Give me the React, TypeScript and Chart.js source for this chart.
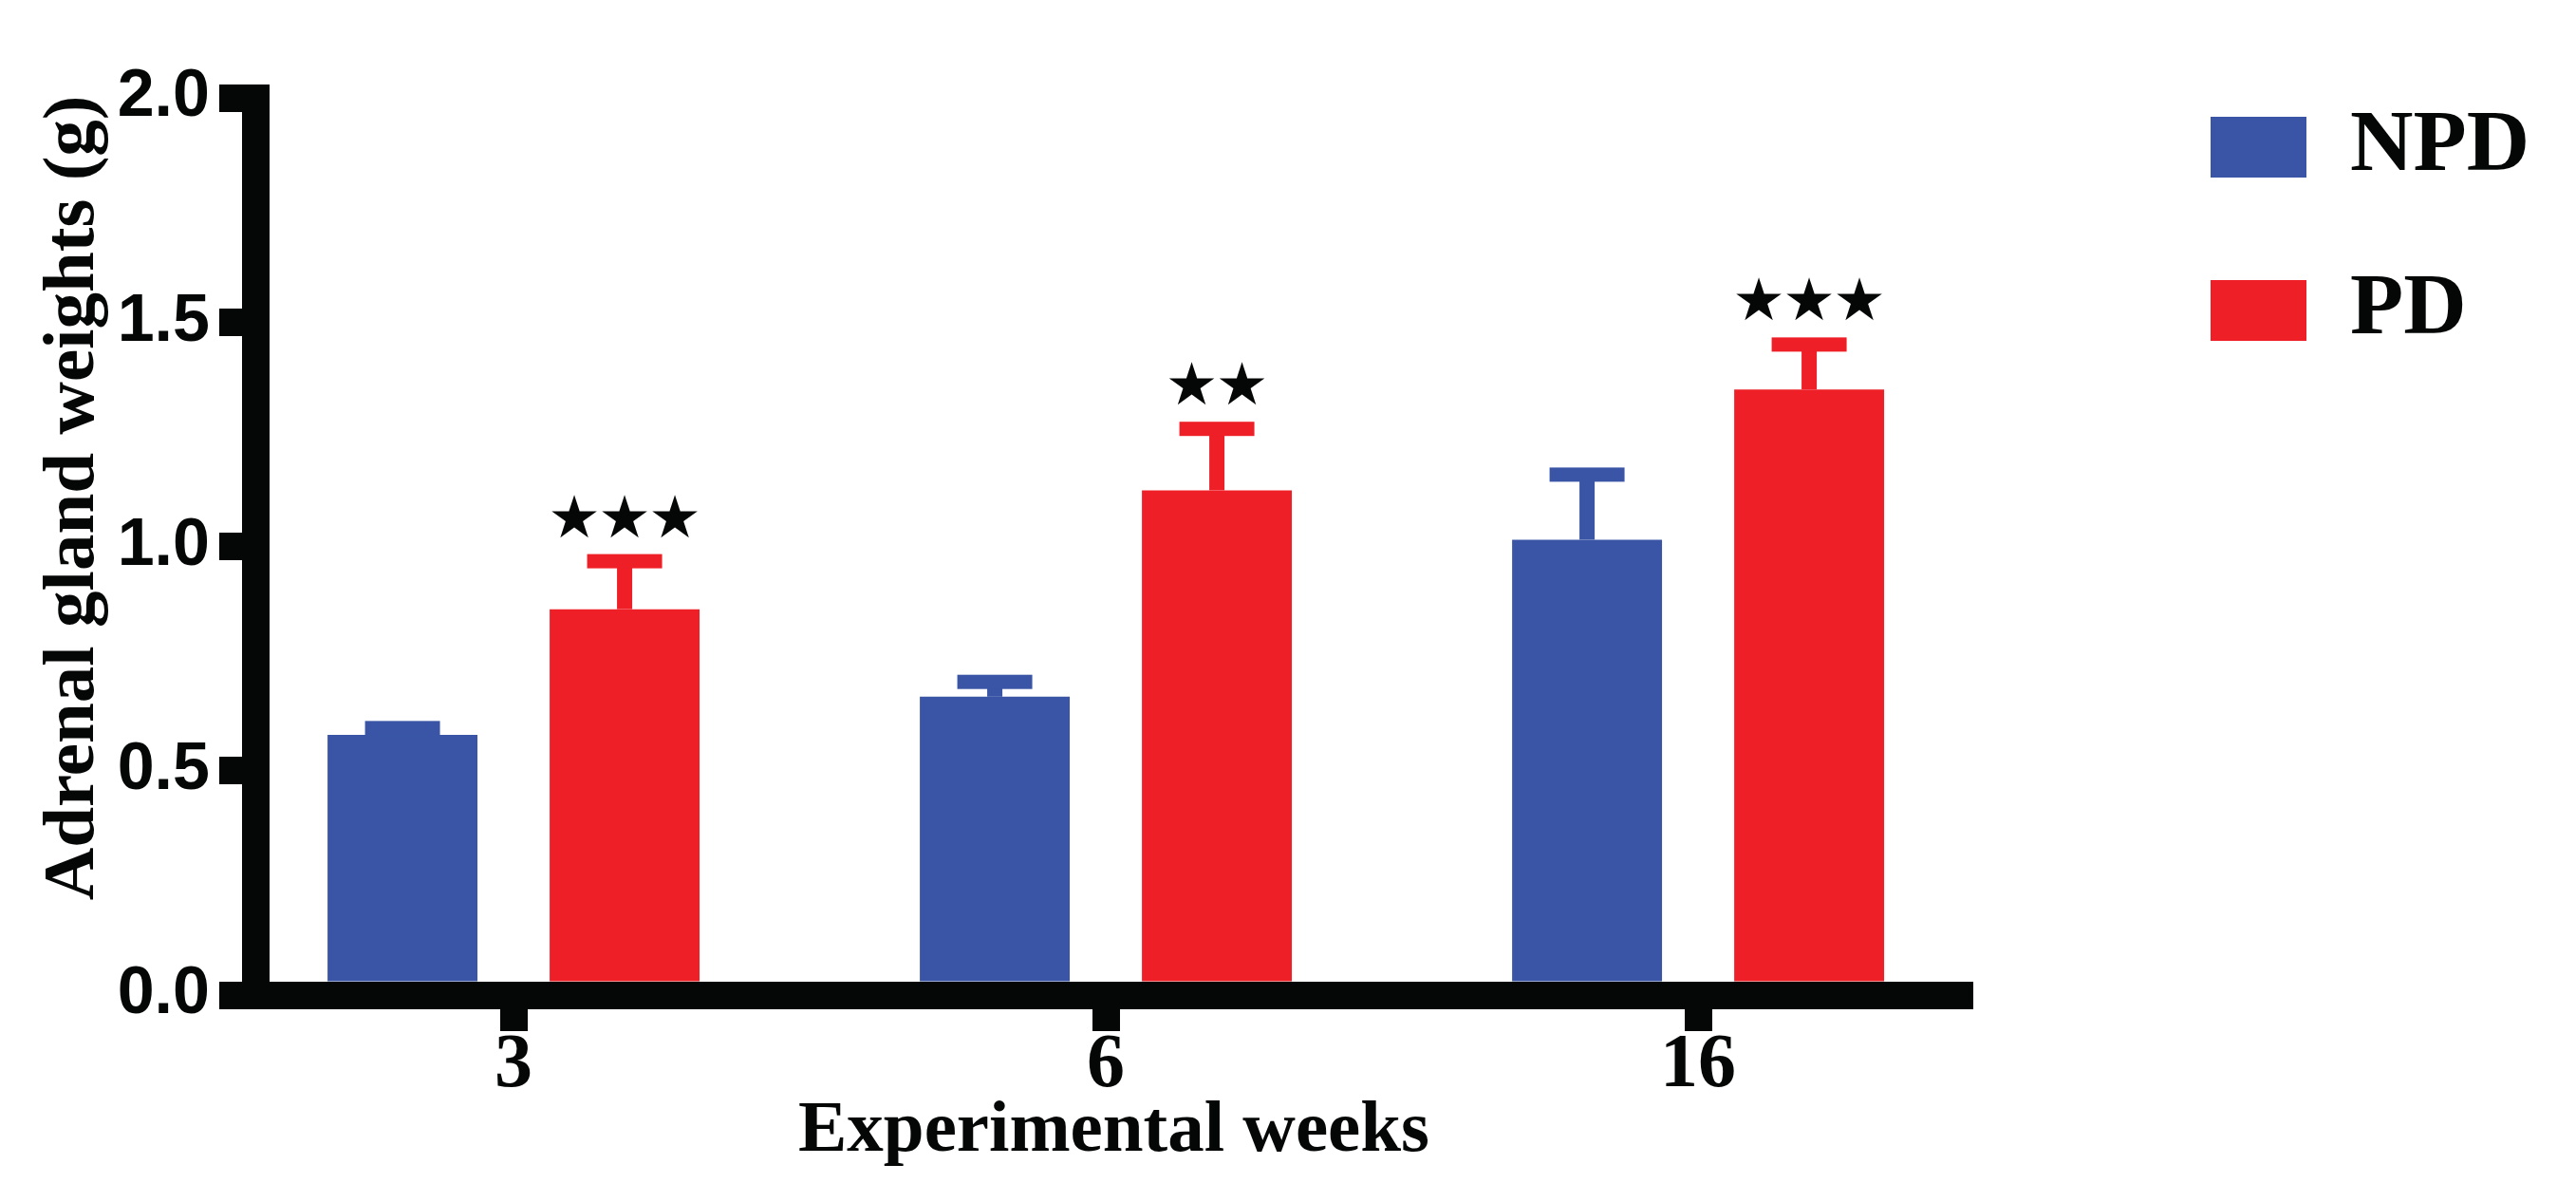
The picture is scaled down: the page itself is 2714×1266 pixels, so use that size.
import React, { useEffect, useRef } from 'react';
import { Chart, registerables } from 'chart.js';

Chart.register(...registerables);

// values (g)
const weeks = ['3', '6', '16'];
const npdMean = [0.58, 0.665, 1.015];
const npdSem = [0.015, 0.033, 0.145];
const pdMean = [0.86, 1.125, 1.35];
const pdSem = [0.107, 0.137, 0.1];
const npdStars = ['', '', ''];
const pdStars = ['★★★', '★★', '★★★'];
const yTicks = [0, 0.5, 1.0, 1.5, 2.0];

const BLUE = '#3a55a5';
const RED = '#ee1f27';
const INK = '#050706';

const means = [npdMean, pdMean];
const sems = [npdSem, pdSem];
const stars = [npdStars, pdStars];

// upward SEM bars, significance stars, y title, legend offset
const extras = {
    id: 'extras',
    afterLayout(chart: any) {
        // legend sits well clear of the plot in the original
        const lg = chart.legend;
        if (lg) {
            const dx = chart.chartArea.right + 171 - lg.left;
            lg.left += dx;
            lg.right += dx;
        }
    },
    afterDatasetsDraw(chart: any) {
        const ctx = chart.ctx;
        const yScale = chart.scales.y;
        ctx.save();
        chart.data.datasets.forEach((ds: any, di: number) => {
            const meta = chart.getDatasetMeta(di);
            meta.data.forEach((bar: any, i: number) => {
                const { x, y, width } = bar.getProps(['x', 'y', 'width'], true);
                const capY = yScale.getPixelForValue(means[di][i] + sems[di][i]);
                ctx.fillStyle = ds.backgroundColor;
                ctx.fillRect(x - 8, capY, 16, y - capY);
                ctx.fillRect(x - width / 4, capY - 7.5, width / 2, 15);
                const s = stars[di][i];
                if (s) {
                    const n = s.length;
                    ctx.fillStyle = INK;
                    ctx.font = '62px "DejaVu Sans"';
                    ctx.textAlign = 'center';
                    ctx.textBaseline = 'middle';
                    for (let k = 0; k < n; k++) {
                        ctx.fillText(s[k], x + (k - (n - 1) / 2) * 53, capY - 7.5 - 34);
                    }
                }
            });
        });
        ctx.restore();
    },
    afterDraw(chart: any) {
        const ctx = chart.ctx;
        const { top, bottom } = chart.chartArea;
        ctx.save();
        ctx.translate(98, top + (bottom - top) * 0.446);
        ctx.rotate(-Math.PI / 2);
        ctx.fillStyle = INK;
        ctx.font = 'bold 77px "Liberation Serif"';
        ctx.textAlign = 'center';
        ctx.textBaseline = 'alphabetic';
        ctx.fillText('Adrenal gland weights (g)', 0, 0);
        ctx.restore();
    },
};

const App: React.FC = () => {
    const chartRef = useRef<HTMLCanvasElement>(null);

    useEffect(() => {
        if (!chartRef.current) return;
        const chart = new Chart(chartRef.current, {
            type: 'bar',
            data: {
                datasets: [
                    {
                        label: 'NPD',
                        data: npdMean.map((v, i) => ({ x: i, y: v })),
                        backgroundColor: BLUE,
                        borderWidth: 0,
                    },
                    {
                        label: 'PD',
                        data: pdMean.map((v, i) => ({ x: i, y: v })),
                        backgroundColor: RED,
                        borderWidth: 0,
                    },
                ],
            },
            options: {
                animation: false,
                responsive: true,
                maintainAspectRatio: false,
                categoryPercentage: 0.75,
                barPercentage: 0.675,
                layout: { padding: { top: 29, right: 49, bottom: 0, left: 0 } },
                plugins: {
                    tooltip: { enabled: false },
                    legend: {
                        position: 'right',
                        align: 'start',
                        labels: {
                            boxWidth: 101,
                            boxHeight: 64,
                            padding: 80,
                            color: INK,
                            font: { family: 'Liberation Serif', weight: 'bold', size: 92 },
                        },
                    },
                },
                scales: {
                    x: {
                        type: 'linear',
                        offset: false,
                        min: -0.436,
                        max: 2.463,
                        grid: {
                            offset: false,
                            drawOnChartArea: false,
                            tickLength: 38,
                            tickWidth: 29,
                            lineWidth: 1,
                            tickColor: INK,
                        },
                        border: { width: 29, color: INK, z: 1 },
                        ticks: {
                            stepSize: 1,
                            includeBounds: false,
                            autoSkip: false,
                            maxRotation: 0,
                            padding: -3,
                            color: INK,
                            font: { family: 'Liberation Serif', weight: 'bold', size: 80, lineHeight: 1 },
                            callback: (v: any) => weeks[v] ?? '',
                        },
                        title: {
                            display: true,
                            text: 'Experimental weeks',
                            color: INK,
                            font: { family: 'Liberation Serif', weight: 'bold', size: 77, lineHeight: 1 },
                            padding: { top: 0, bottom: 35 },
                        },
                        afterFit: (s: any) => {
                            s.height = 218;
                            s.paddingRight = 636;
                        },
                    },
                    y: {
                        min: 0,
                        max: 2,
                        afterBuildTicks: (s: any) => {
                            s.ticks = yTicks.map((v) => ({ value: v }));
                        },
                        grid: {
                            drawOnChartArea: false,
                            tickLength: 38,
                            tickWidth: 29,
                            lineWidth: 29,
                            tickColor: INK,
                        },
                        border: { width: 29, color: INK, z: 1 },
                        ticks: {
                            padding: 10,
                            color: INK,
                            font: { family: 'Liberation Sans', weight: 'bold', size: 70 },
                            callback: (v: any) => Number(v).toFixed(1),
                        },
                        afterFit: (s: any) => {
                            s.width = 269;
                            s.paddingTop = 103;
                        },
                    },
                },
            },
            plugins: [extras],
        });

        return () => {
            chart.destroy();
        };
    }, []);

    return (
        <div style={{ position: 'fixed', left: 0, top: 0, width: '2714px', height: '1266px', background: '#fff' }}>
            <canvas ref={chartRef} />
        </div>
    );
};

export default App;
